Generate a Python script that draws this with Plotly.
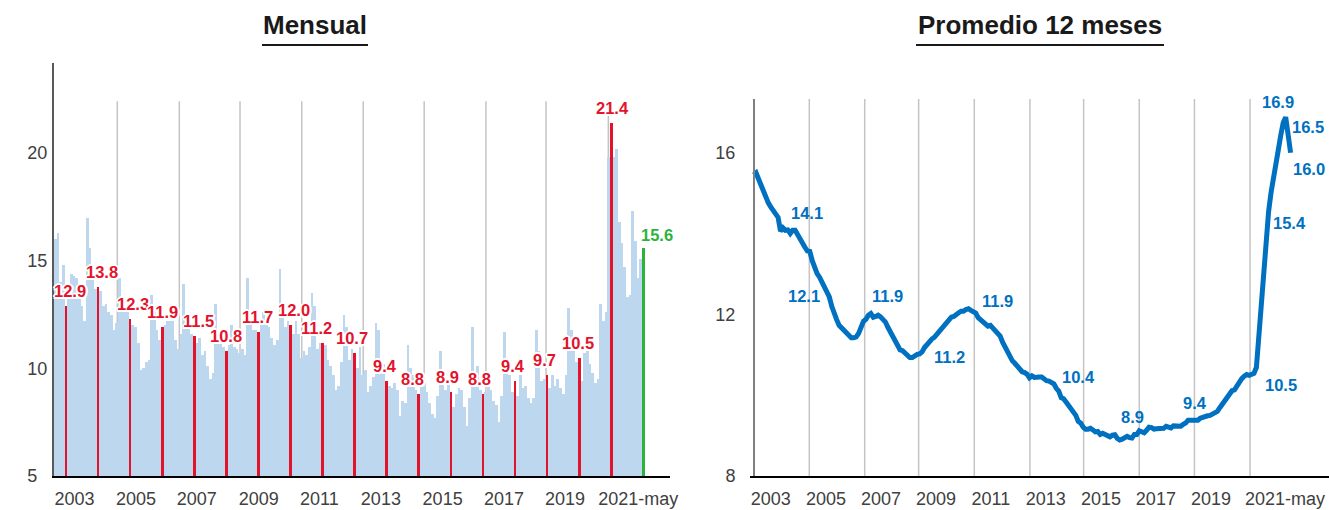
import plotly.graph_objects as go

# Tasa de desempleo mensual (%), enero 2003 - mayo 2021
m2003 = [16.0, 16.3, 14.0, 14.8, 12.9, 13.5, 14.4, 14.3, 14.2, 13.2, 12.9, 12.2]
m2004 = [17.0, 15.6, 14.1, 13.7, 13.8, 13.6, 12.9, 13.0, 12.6, 12.5, 11.8, 12.1]
m2005 = [14.2, 13.3, 12.6, 12.6, 12.3, 12.0, 11.9, 11.2, 9.9, 10.0, 10.3, 10.4]
m2006 = [13.4, 12.9, 11.8, 11.3, 11.9, 12.0, 12.2, 12.2, 12.2, 11.3, 10.9, 11.6]
m2007 = [13.9, 11.9, 12.0, 11.6, 11.5, 11.2, 11.4, 10.6, 10.8, 10.1, 9.5, 9.8]
m2008 = [13.0, 11.7, 11.3, 11.0, 10.8, 11.1, 12.0, 11.0, 10.9, 10.7, 10.9, 10.6]
m2009 = [14.2, 12.2, 11.8, 11.8, 11.7, 12.1, 12.6, 12.0, 11.9, 11.4, 11.1, 11.3]
m2010 = [14.6, 12.6, 11.9, 12.2, 12.0, 11.6, 12.2, 11.6, 10.5, 10.8, 10.6, 11.0]
m2011 = [13.5, 12.9, 10.9, 11.2, 11.2, 11.1, 10.4, 10.1, 9.7, 9.0, 9.2, 10.3]
m2012 = [12.5, 11.9, 10.4, 10.9, 10.7, 10.0, 11.0, 9.7, 9.9, 8.9, 9.2, 9.6]
m2013 = [12.1, 11.8, 10.2, 10.2, 9.4, 9.2, 9.1, 9.3, 9.0, 7.8, 8.5, 8.4]
m2014 = [11.1, 10.0, 9.7, 9.0, 8.8, 9.2, 9.3, 8.9, 8.4, 7.9, 7.7, 8.7]
m2015 = [10.8, 9.9, 9.0, 9.5, 8.9, 8.2, 8.8, 9.1, 9.0, 8.2, 7.3, 8.6]
m2016 = [11.9, 9.8, 10.1, 9.0, 8.8, 8.9, 9.8, 9.0, 8.5, 8.3, 7.5, 8.7]
m2017 = [11.7, 10.5, 9.7, 8.9, 9.4, 8.7, 9.7, 9.1, 9.2, 8.6, 8.4, 8.6]
m2018 = [11.8, 10.8, 9.4, 9.5, 9.7, 9.1, 9.7, 9.2, 9.5, 9.1, 8.8, 9.7]
m2019 = [12.8, 11.8, 10.8, 10.3, 10.5, 9.4, 10.7, 10.8, 10.2, 9.8, 9.3, 9.5]
m2020 = [13.0, 12.2, 12.6, 19.8, 21.4, 19.8, 20.2, 16.8, 15.8, 14.7, 13.3, 13.4]
m2021 = [17.3, 15.9, 14.2, 15.1, 15.6]

# Promedio 12 meses (%)
p2003 = [15.45, 15.5, 15.35, 15.2, 15.0, 14.92, 14.76, 14.66, 14.58, 14.5, 14.4, 14.06]
p2004 = [14.14, 14.08, 14.09, 14.0, 14.08, 14.08, 13.96, 13.85, 13.72, 13.66, 13.57, 13.56]
p2005 = [13.33, 13.13, 13.01, 12.92, 12.79, 12.66, 12.58, 12.43, 12.2, 11.99, 11.87, 11.73]
p2006 = [11.66, 11.63, 11.56, 11.45, 11.42, 11.42, 11.44, 11.53, 11.72, 11.83, 11.88, 11.98]
p2007 = [12.02, 11.93, 11.95, 11.98, 11.94, 11.88, 11.81, 11.68, 11.56, 11.46, 11.34, 11.19]
p2008 = [11.12, 11.1, 11.04, 10.99, 10.93, 10.93, 10.98, 11.01, 11.02, 11.07, 11.18, 11.25]
p2009 = [11.35, 11.39, 11.43, 11.5, 11.58, 11.66, 11.71, 11.79, 11.88, 11.93, 11.95, 12.01]
p2010 = [12.04, 12.08, 12.08, 12.12, 12.14, 12.1, 12.07, 12.03, 11.92, 11.87, 11.83, 11.8]
p2011 = [11.71, 11.73, 11.65, 11.57, 11.5, 11.46, 11.31, 11.18, 11.12, 10.97, 10.85, 10.79]
p2012 = [10.71, 10.63, 10.58, 10.56, 10.52, 10.43, 10.48, 10.44, 10.46, 10.45, 10.45, 10.39]
p2013 = [10.36, 10.35, 10.33, 10.28, 10.17, 10.1, 9.94, 9.91, 9.83, 9.74, 9.68, 9.58]
p2014 = [9.5, 9.35, 9.31, 9.21, 9.16, 9.16, 9.18, 9.14, 9.09, 9.1, 9.03, 9.06]
p2015 = [9.03, 9.03, 8.97, 9.01, 9.02, 8.93, 8.89, 8.91, 8.96, 8.98, 8.95, 8.94]
p2016 = [9.03, 9.03, 9.12, 9.08, 9.07, 9.13, 9.21, 9.2, 9.16, 9.17, 9.18, 9.19]
p2017 = [9.18, 9.23, 9.2, 9.19, 9.24, 9.23, 9.22, 9.23, 9.28, 9.31, 9.38, 9.38]
p2018 = [9.38, 9.41, 9.38, 9.43, 9.46, 9.49, 9.49, 9.5, 9.53, 9.57, 9.6, 9.69]
p2019 = [9.78, 9.86, 9.98, 10.04, 10.11, 10.13, 10.22, 10.35, 10.41, 10.47, 10.51, 10.49]
p2020 = [10.51, 10.54, 10.69, 11.48, 12.39, 13.26, 14.05, 14.55, 15.02, 15.43, 15.76, 16.08]
p2021 = [16.44, 16.75, 16.88, 16.49, 16.0]

tick_text = ["2003", "2005", "2007", "2009", "2011", "2013", "2015", "2017", "2019", "2021-may"]
line_labels = ["14.1", "12.1", "11.9", "11.2", "11.9", "10.4", "8.9", "9.4", "10.5", "15.4", "16.9", "16.5", "16.0"]

mensual = (m2003 + m2004 + m2005 + m2006 + m2007 + m2008 + m2009 + m2010 + m2011 + m2012
           + m2013 + m2014 + m2015 + m2016 + m2017 + m2018 + m2019 + m2020 + m2021)
promedio = (p2003 + p2004 + p2005 + p2006 + p2007 + p2008 + p2009 + p2010 + p2011 + p2012
            + p2013 + p2014 + p2015 + p2016 + p2017 + p2018 + p2019 + p2020 + p2021)
months = list(range(len(mensual)))
last = len(mensual) - 1
may_idx = [i for i in months if i % 12 == 4 and i != last]

LIGHT = "#BDD7EE"
RED = "#E3132C"
GREEN = "#2BB33A"
BLUE = "#0070C0"
FONT = "Liberation Sans, Arial, sans-serif"
HALO = ("-2px 0 0 white, 2px 0 0 white, 0 -2px 0 white, 0 2px 0 white, "
        "-1.5px -1.5px 0 white, 1.5px -1.5px 0 white, -1.5px 1.5px 0 white, 1.5px 1.5px 0 white")

W, H = 1329, 510


def px(x):
    return x / W


def py(y):
    return 1 - y / H


colors = [LIGHT] * len(mensual)
for i in may_idx:
    colors[i] = RED
colors[last] = GREEN

fig = go.Figure()
fig.add_trace(go.Bar(x=months, y=mensual, width=1, marker=dict(color=colors, line=dict(width=0)),
                     xaxis="x", yaxis="y", hoverinfo="skip"))
fig.add_trace(go.Scatter(x=months, y=promedio, mode="lines", line=dict(color=BLUE, width=5),
                         xaxis="x2", yaxis="y2", hoverinfo="skip"))

# tick / grid positions (in month index) for each panel
lab_l = [7.2, 30.2, 52.9, 76.1, 98.8, 121.8, 144.9, 167.9, 190.7, 218.1]
grid_l = [23.2, 46.4, 69.1, 92.2, 115.2, 138.0, 161.1, 183.6, 206.9]
lab_r = [7.0, 29.6, 52.2, 74.7, 97.2, 119.7, 142.3, 164.8, 187.4, 217.7]
grid_r = [22.8, 45.5, 67.6, 90.4, 113.2, 135.2, 158.0, 180.6, 203.4]

shapes = []
for g in grid_l:
    shapes.append(dict(type="line", xref="x", yref="y", x0=g, x1=g, y0=5, y1=22.4,
                       line=dict(color="#C4C4C4", width=1.5), layer="below"))
for g in grid_r:
    shapes.append(dict(type="line", xref="x2", yref="y2", x0=g, x1=g, y0=8, y1=17.33,
                       line=dict(color="#C4C4C4", width=1.5), layer="below"))
# title underlines
shapes.append(dict(type="line", xref="paper", yref="paper", x0=px(262), x1=px(368), y0=py(45), y1=py(45),
                   line=dict(color="#1a1a1a", width=2)))
shapes.append(dict(type="line", xref="paper", yref="paper", x0=px(916), x1=px(1164), y0=py(45), y1=py(45),
                   line=dict(color="#1a1a1a", width=2)))

ann = []
ann.append(dict(text="<b>Mensual</b>", x=px(315), y=py(25), xref="paper", yref="paper", showarrow=False,
                xanchor="center", yanchor="middle", font=dict(family=FONT, size=26, color="#1a1a1a")))
ann.append(dict(text="<b>Promedio 12 meses</b>", x=px(1040), y=py(25), xref="paper", yref="paper",
                xanchor="center", yanchor="middle", showarrow=False,
                font=dict(family=FONT, size=26, color="#1a1a1a")))

red_dx = [4, 4, 2.5, 0.5, 4, -0.5, -1, 3, -6, -3, -2, -6.5, -3, -3.5, -2, -2.5, -1, 1]
for i, dx in zip(may_idx, red_dx):
    ann.append(dict(text=f"<b>{mensual[i]:.1f}</b>", x=i, y=mensual[i], xref="x", yref="y", showarrow=False,
                    xshift=dx, yshift=15, yanchor="middle",
                    font=dict(family=FONT, size=16.5, color=RED, shadow=HALO)))
ann.append(dict(text=f"<b>{mensual[last]:.1f}</b>", x=last, y=mensual[last], xref="x", yref="y",
                showarrow=False, xanchor="left", xshift=-4, yshift=13, yanchor="middle",
                font=dict(family=FONT, size=16.5, color=GREEN, shadow=HALO)))

lab_pos = [(21.9, 14.52), (20.5, 12.45), (55.0, 12.45), (80.2, 10.95), (100.1, 12.34), (133.2, 10.44),
           (155.1, 9.45), (181.0, 9.81), (216.0, 10.26), (219.4, 14.27), (214.8, 17.25), (227.1, 16.63),
           (227.5, 15.6)]
for t, (xx, yy) in zip(line_labels, lab_pos):
    ann.append(dict(text=f"<b>{t}</b>", x=xx, y=yy, xref="x2", yref="y2", showarrow=False,
                    font=dict(family=FONT, size=16.5, color=BLUE)))

axis_font = dict(family=FONT, size=18, color="#404040")
fig.update_layout(
    width=W, height=H, margin=dict(l=0, r=0, t=0, b=0, autoexpand=False),
    paper_bgcolor="white", plot_bgcolor="white",
    showlegend=False, bargap=0,
    font=dict(family=FONT),
    xaxis=dict(domain=[px(54), px(670)], range=[-0.49, 229.97], tickmode="array", tickvals=lab_l,
               ticktext=tick_text, showgrid=False, zeroline=False, showline=True, linecolor="#000000",
               linewidth=1.5, ticks="", tickfont=axis_font, anchor="y", ticklabelstandoff=6,
               automargin=False),
    yaxis=dict(domain=[py(476), py(63)], range=[5, 24.18], tickmode="array", tickvals=[5, 10, 15, 20],
               ticktext=["5<span style='color:white'>0</span>", "10", "15", "20"],
               showgrid=False, zeroline=False, showline=True, linecolor="#595959", linewidth=2,
               ticks="", tickfont=axis_font, anchor="x", ticklabelstandoff=1, automargin=False),
    xaxis2=dict(domain=[px(750), 1], range=[-1.5, 235.74], tickmode="array", tickvals=lab_r,
                ticktext=tick_text, showgrid=False, zeroline=False, showline=True, linecolor="#000000",
                linewidth=1.5, ticks="", tickfont=axis_font, anchor="y2", ticklabelstandoff=6,
                automargin=False),
    yaxis2=dict(domain=[py(476), py(99)], range=[8, 17.33], tickmode="array", tickvals=[8, 12, 16],
                showgrid=False, zeroline=False, showline=True, linecolor="#7F7F7F", linewidth=2,
                ticks="", tickfont=axis_font, anchor="free", position=px(754), ticklabelstandoff=14,
                automargin=False),
    shapes=shapes, annotations=ann,
)

fig.write_html("out.html", config={"displayModeBar": False},
               post_script="document.body.style.margin='0px';")
